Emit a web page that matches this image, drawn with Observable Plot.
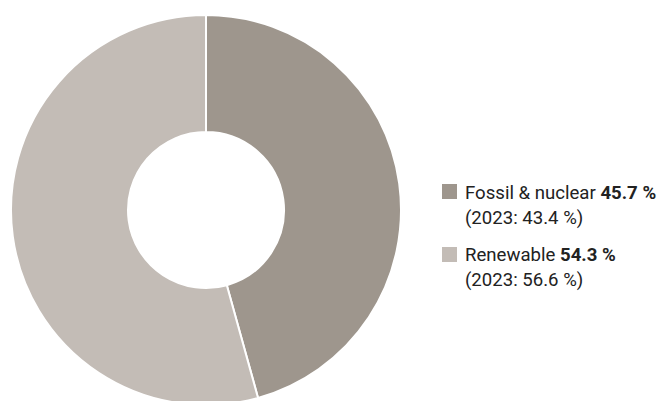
<!DOCTYPE html>
<html>
<head>
<meta charset="utf-8">
<script src="https://cdn.jsdelivr.net/npm/d3@7"></script>
<script src="https://cdn.jsdelivr.net/npm/@observablehq/plot@0.6"></script>
<style>
  html, body { margin: 0; padding: 0; background: #fff; }
  #wrap { position: relative; width: 662px; height: 401px; overflow: hidden; }
  #legend { position: absolute; left: 442px; top: 181.1px; font-family: Roboto, sans-serif; font-size: 18.6px; color: #222; line-height: 25px; white-space: nowrap; }
  .item { position: relative; padding-left: 23px; margin-bottom: 12.3px; }
  .sw { position: absolute; left: 0; top: 3.2px; width: 15px; height: 15px; }
  b { font-weight: 700; }
</style>
</head>
<body>
<div id="wrap"></div>
<script>
const categories = ["Fossil & nuclear", "Renewable"];
const shares = [45.7, 54.3];
const prevShares = [43.4, 56.6];
const colors = ["#9e968d", "#c3bcb6"];

const data = categories.map((c, i) => ({category: c, value: shares[i], prev: prevShares[i], color: colors[i]}));
const arcs = d3.pie().sort(null).value(d => d.value)(data);

const donut = (index, scales, values, dimensions, context) => {
  const cx = scales.x(0), cy = scales.y(0);
  const r = scales.x(1) - scales.x(0);
  const arc = d3.arc().innerRadius(r * 0.4).outerRadius(r);
  const g = d3.create("svg:g").attr("transform", `translate(${cx},${cy})`);
  g.selectAll("path").data(arcs).join("path")
    .attr("d", arc)
    .attr("fill", d => d.data.color)
    .attr("stroke", "#fff")
    .attr("stroke-width", 2)
    .attr("stroke-linejoin", "bevel");
  return g.node();
};

const chart = Plot.plot({
  width: 662,
  height: 401,
  x: {domain: [-1, 1], range: [11, 401], axis: null},
  y: {domain: [-1, 1], range: [405, 15], axis: null},
  marks: [donut]
});

const wrap = document.getElementById("wrap");
wrap.appendChild(chart);

const legend = document.createElement("div");
legend.id = "legend";
legend.innerHTML = data.map(d =>
  `<div class="item"><span class="sw" style="background:${d.color}"></span>${d.category} <b>${d.value.toFixed(1)} %</b><br>(2023: ${d.prev.toFixed(1)} %)</div>`
).join("");
wrap.appendChild(legend);
</script>
</body>
</html>
